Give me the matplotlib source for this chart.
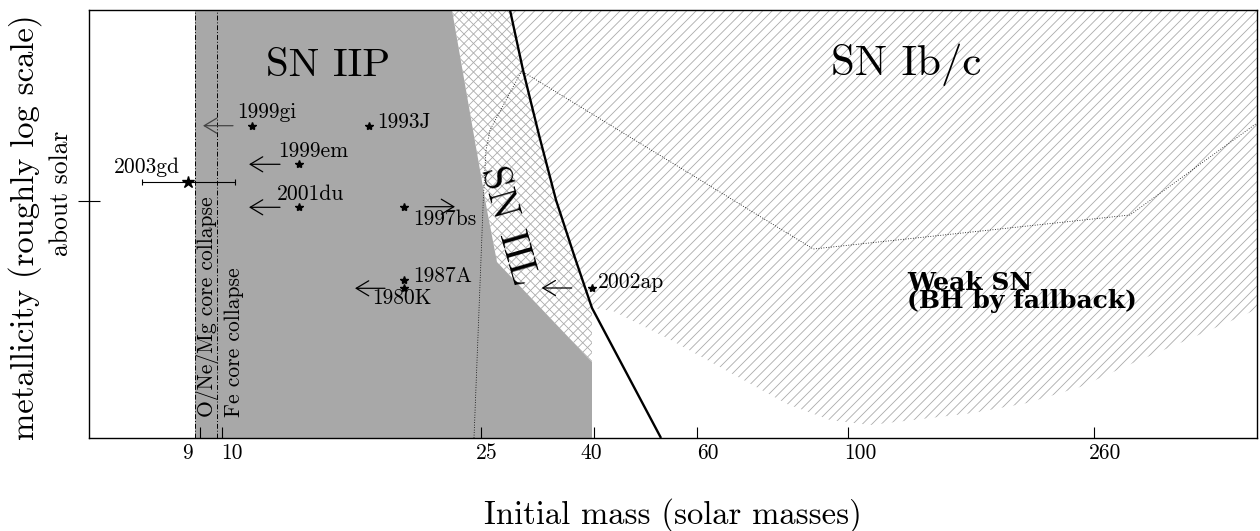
import matplotlib
matplotlib.use('Agg')
import numpy as np
import matplotlib.pyplot as plt
from matplotlib.patches import Polygon
from matplotlib.collections import LineCollection

plt.rcParams['font.family'] = ['cmr10', 'DejaVu Serif']
plt.rcParams['axes.formatter.use_mathtext'] = True

# ---------------- data (schematic plot units) ----------------
tick_pos = [200, 221.7, 480.7, 594.3, 696.7, 848.3, 1094]
tick_labels = ['9', '10', '25', '40', '60', '100', '260']
tick_label_x = [187.7, 231.7, 486.7, 591.7, 708.3, 860, 1105]
solar_y = 200.6

# SN IIP region (grey)
iip_x = [195, 452, 487, 497, 592, 592, 195]
iip_y = [10, 10, 210, 262, 362, 438, 438]

# thick boundary line (black hole formation)
bh_x = [510, 523, 539, 556, 574, 592, 661]
bh_y = [10, 70, 135, 200, 255, 308, 438]

# left edge of SN IIL region (cross-hatched)
iil_left_x = [452, 487, 497, 592]
iil_left_y = [10, 210, 262, 362]

# lower edge of SN Ib/c region (hatched)
ibc_low_x = [592, 613, 667, 720, 787, 830, 870, 913, 973, 1027, 1080, 1133, 1187, 1240, 1257]
ibc_low_y = [308, 311, 338, 367, 404, 420, 425, 420, 413, 403, 387, 363, 340, 317, 309]

# dotted line
dot_x = [474, 483.3, 486, 490, 521.7, 813.3, 1130, 1257]
dot_y = [438, 200, 150, 130, 71, 249, 215, 123]

# core-collapse lines
onemg_x = 195
fe_x = 217

# supernovae
sn_names = ['1999gi', '1993J', '1999em', '2001du', '1997bs', '1987A', '1980K', '2002ap']
sn_x = [252.3, 369.3, 299.3, 299.3, 404.3, 404.3, 404.3, 591.7]
sn_y = [125.7, 125.7, 164.3, 207.3, 207, 280, 288.3, 288]
lab_x = [236.7, 377, 278.3, 276.7, 412.7, 412.7, 372.3, 598.3]
lab_y = [118, 127.5, 157.3, 200, 225, 281.7, 304.3, 288.3]

arrow_from = [233, 280, 280, 425, 385, 571.7]
arrow_to = [203, 249, 249, 455, 355, 541.7]
arrow_y = [125.7, 164.3, 207.3, 206.7, 288.3, 288]
arrow_col = ['#444444', 'k', 'k', 'k', 'k', 'k']

gd_x, gd_y = 187.7, 181.7
gd_lo, gd_hi = 141.7, 235
gd_lab = (114, 173.3)

# ---------------- figure ----------------
W, H = 1260, 531
X0, X1, Y0, Y1 = 89, 1257, 438, 10
fig = plt.figure(figsize=(W / 100, H / 100), dpi=100)
ax = fig.add_axes([X0 / W, (H - Y0) / H, (X1 - X0) / W, (Y0 - Y1) / H])
ax.set_xlim(X0, X1)
ax.set_ylim(Y0, Y1)

grey = '#a8a8a8'
hcol = '#aaaaaa'
HATCH_STEP = 9.5


def hatch(poly_pts, directions):
    """Fill polygon with thin 45-degree hatch lines (style only)."""
    patch = Polygon(poly_pts, closed=True, facecolor='none', edgecolor='none',
                    lw=0, zorder=1)
    ax.add_patch(patch)
    segs = []
    for d in directions:
        if d == '/':   # x + y = c  (rises to the right on screen)
            for c in np.arange(X0 + Y1, X1 + Y0 + HATCH_STEP, HATCH_STEP):
                segs.append([(c - Y0, Y0), (c - Y1, Y1)])
        else:          # x - y = c
            for c in np.arange(X0 - Y0, X1 - Y1 + HATCH_STEP, HATCH_STEP):
                segs.append([(c + Y1, Y1), (c + Y0, Y0)])
    lc = LineCollection(segs, colors=hcol, linewidths=0.6, zorder=1)
    ax.add_collection(lc)
    lc.set_clip_path(patch)


ax.add_patch(Polygon(list(zip(iip_x, iip_y)), closed=True, facecolor=grey,
                     edgecolor='none', lw=0, zorder=1))

upper = list(zip(bh_x[:6], bh_y[:6]))
iil_poly = list(zip(iil_left_x, iil_left_y)) + upper[::-1]
hatch(iil_poly, ['/', '\\'])

ibc_poly = upper + list(zip(ibc_low_x, ibc_low_y)) + [(X1, Y1)]
hatch(ibc_poly, ['/'])

ax.plot(dot_x, dot_y, color='k', lw=0.6, ls=(0, (1, 2)), zorder=2)
for xv in (onemg_x, fe_x):
    ax.axvline(xv, color='k', lw=0.7, ls=(0, (5, 2, 1, 2)), zorder=2)
ax.plot(bh_x, bh_y, color='k', lw=1.7, zorder=3, solid_capstyle='butt')

# supernovae
ax.plot(sn_x, sn_y, ls='none', marker='*', ms=6, color='k', zorder=5)
for name, x, y in zip(sn_names, lab_x, lab_y):
    ax.text(x, y, name, ha='left', va='baseline', fontsize=15.5, zorder=6)
for a, b, y, c in zip(arrow_from, arrow_to, arrow_y, arrow_col):
    ax.annotate('', xy=(b, y), xytext=(a, y),
                arrowprops=dict(arrowstyle='->,head_length=0.45,head_width=0.27',
                                lw=0.9, color=c, shrinkA=0, shrinkB=0,
                                mutation_scale=20), zorder=6)
ax.errorbar([gd_x], [gd_y], xerr=[[gd_x - gd_lo], [gd_hi - gd_x]], fmt='*',
            ms=9, color='k', ecolor='k', elinewidth=0.8, capsize=2.5,
            capthick=0.8, zorder=6)
ax.text(gd_lab[0], gd_lab[1], '2003gd', ha='left', va='baseline', fontsize=15.5)

# region labels
ax.text(328.5, 76, 'SN IIP', ha='center', va='baseline', fontsize=29.5)
ax.text(906.5, 75, 'SN Ib/c', ha='center', va='baseline', fontsize=31)
ax.text(507.5, 226, 'SN IIL', ha='center', va='center', fontsize=29.5,
        rotation=-74, rotation_mode='anchor')
ax.text(907, 271, 'Weak SN\n(BH by fallback)', ha='left', va='top',
        fontsize=18, family='DejaVu Serif', weight='bold', linespacing=0.66)
ax.text(213, 417, 'O/Ne/Mg core collapse', ha='left', va='baseline',
        rotation=90, rotation_mode='anchor', fontsize=15.5)
ax.text(240, 417, 'Fe core collapse', ha='left', va='baseline',
        rotation=90, rotation_mode='anchor', fontsize=15.5)

# axes decoration
for s in ax.spines.values():
    s.set_linewidth(1.0)
ax.set_xticks(tick_pos)
ax.set_xticklabels([''] * len(tick_pos))
ax.tick_params(axis='x', which='major', direction='in', length=8, width=0.8,
               top=False)
ax.set_xticks([tick_pos[0]], minor=True)
ax.tick_params(axis='x', which='minor', direction='inout', length=16, width=0.8,
               top=False)
ax.set_yticks([solar_y])
ax.set_yticklabels([''])
ax.tick_params(axis='y', direction='inout', length=16, width=0.8, right=False)

for x, lab in zip(tick_label_x, tick_labels):
    ax.text(x, 459, lab, ha='center', va='baseline', fontsize=15.5, clip_on=False)

ax.text(34, 227, 'metallicity (roughly log scale)', rotation=90,
        rotation_mode='anchor', ha='center', va='baseline', fontsize=23.5,
        clip_on=False)
ax.text(68, 193, 'about solar', rotation=90, rotation_mode='anchor',
        ha='center', va='baseline', fontsize=18.5, clip_on=False)
ax.text(672.5, 524, 'Initial mass (solar masses)', ha='center', va='baseline',
        fontsize=23.5, clip_on=False)

fig.savefig('out.png', dpi=100, facecolor='white')
